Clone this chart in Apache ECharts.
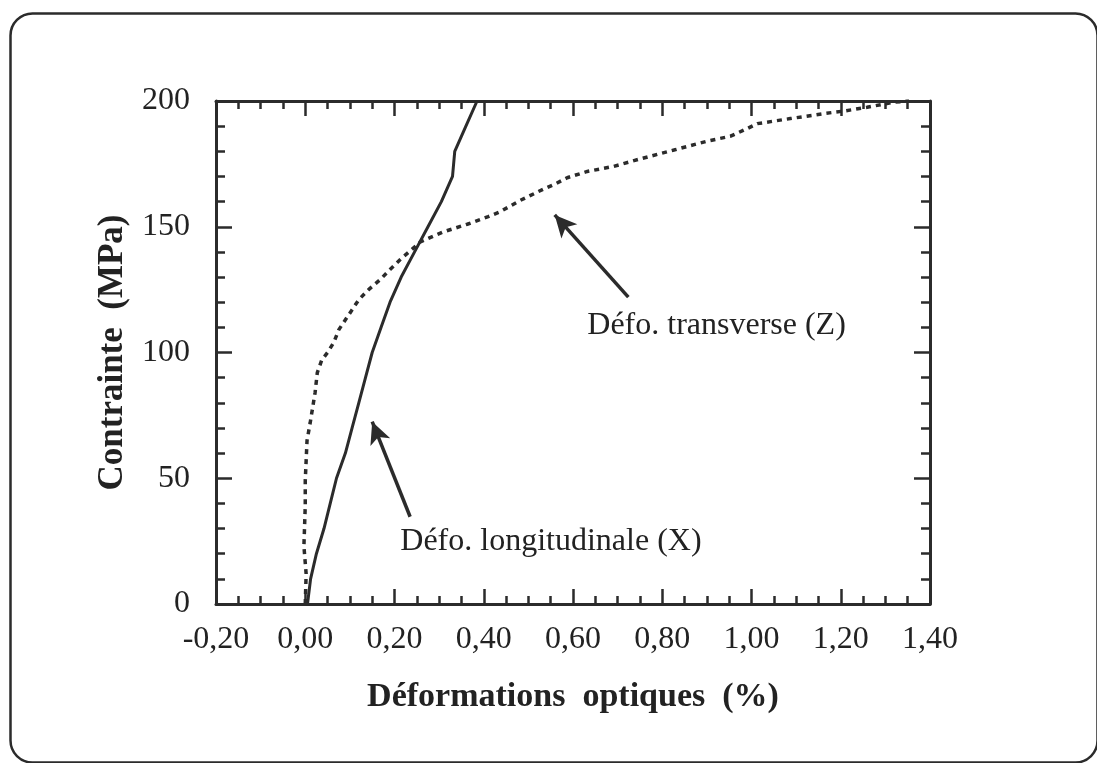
<!DOCTYPE html>
<html>
<head>
<meta charset="utf-8">
<script src="https://cdn.jsdelivr.net/npm/echarts@6/dist/echarts.min.js"></script>
<style>
html,body{margin:0;padding:0;background:#fff;}
#chart{width:1097px;height:763px;}
</style>
</head>
<body>
<div id="chart"></div>
<script>
// ---- data ----
const xAxisName = 'Déformations  optiques  (%)';
const yAxisName = 'Contrainte  (MPa)';
const xTickLabels = ['-0,20','0,00','0,20','0,40','0,60','0,80','1,00','1,20','1,40'];
const yTickLabels = ['0','50','100','150','200'];

// Défo. longitudinale (X): [strain %, stress MPa]
const longX = [0.005,0.012,0.025,0.042,0.056,0.07,0.09,0.105,0.12,0.135,0.15,0.17,0.19,0.215,0.245,0.275,0.305,0.33,0.335,0.36,0.385];
const longY = [0,10,20,30,40,50,60,70,80,90,100,110,120,130,140,150,160,170,180,190,200];

// Défo. transverse (Z)
const transX = [0,0.002,-0.003,0,0,0.004,0.011,0.022,0.027,0.037,0.05,0.064,0.075,0.09,0.105,0.12,0.142,0.168,0.19,0.213,0.239,0.258,0.31,0.363,0.41,0.437,0.482,0.534,0.56,0.587,0.632,0.691,0.751,0.826,0.9,0.953,0.99,1.013,1.087,1.162,1.207,1.259,1.319,1.353];
const transY = [0,12,23,39,49,65,72,84,92,97,100,104,109,113,117,121,125,129,133,137,141,144,148,151,154,156,160.5,165,167,169.5,172,174,177,180.5,184,186,189,191,193,195,196,197.5,199.5,200];

// annotations: label text, anchor [x, y]; arrows: tail -> tip
const annotTexts = ['Défo. transverse (Z)', 'Défo. longitudinale (X)'];
const annotAnchors = [[0.632, 110.5], [0.213, 24.7]];
const arrowTails = [[0.724, 122], [0.235, 34.7]];
const arrowTips = [[0.559, 154.7], [0.150, 72.5]];

const xMin = -0.2, xMax = 1.4, xStep = 0.2;
const yMin = 0, yMax = 200, yStep = 50;

// ---- chart ----
const ink = '#2b2b2b';
const serif = '"Liberation Serif", "DejaVu Serif", serif';
const chart = echarts.init(document.getElementById('chart'), null, {renderer: 'canvas'});

const zip = (xs, ys) => xs.map((x, i) => [x, ys[i]]);

function baseX(pos, showLabel) {
  return {
    type: 'value', position: pos, min: xMin, max: xMax, interval: xStep,
    axisLine: {show: true, onZero: false, lineStyle: {color: ink, width: 3}},
    axisTick: {show: true, inside: true, length: 15, lineStyle: {color: ink, width: 2.5}},
    minorTick: {show: true, splitNumber: 4, length: 8, lineStyle: {color: ink, width: 2.5}},
    splitLine: {show: false}, minorSplitLine: {show: false},
    axisLabel: showLabel ? {
      show: true, margin: 20, color: '#222', fontFamily: serif, fontSize: 32,
      formatter: v => xTickLabels[Math.round((v - xMin) / xStep)]
    } : {show: false}
  };
}
function baseY(pos, showLabel) {
  return {
    type: 'value', position: pos, min: yMin, max: yMax, interval: yStep,
    axisLine: {show: true, onZero: false, lineStyle: {color: ink, width: 3}},
    axisTick: {show: true, inside: true, length: 16, lineStyle: {color: ink, width: 2.5}},
    minorTick: {show: true, splitNumber: 5, length: 9, lineStyle: {color: ink, width: 2.5}},
    splitLine: {show: false}, minorSplitLine: {show: false},
    axisLabel: showLabel ? {
      show: true, margin: 26, color: '#222', fontFamily: serif, fontSize: 32,
      formatter: v => yTickLabels[Math.round((v - yMin) / yStep)]
    } : {show: false}
  };
}

const xa = baseX('bottom', true);
xa.name = xAxisName; xa.nameLocation = 'middle'; xa.nameGap = 76;
xa.nameTextStyle = {fontFamily: serif, fontWeight: 'bold', fontSize: 34, color: '#222'};
const ya = baseY('left', true);
ya.name = yAxisName; ya.nameLocation = 'middle'; ya.nameGap = 86; ya.nameRotate = 90;
ya.nameTextStyle = {fontFamily: serif, fontWeight: 'bold', fontSize: 35, color: '#222'};

const option = {
  animation: false,
  backgroundColor: '#fff',
  grid: {left: 216, right: 167, top: 101, bottom: 159, containLabel: false},
  xAxis: [xa, baseX('top', false)],
  yAxis: [ya, baseY('right', false)],
  graphic: [{
    type: 'rect', left: 8, top: 11, z: -1,
    shape: {width: 1087, height: 749, r: 22},
    style: {fill: 'none', stroke: ink, lineWidth: 2.5}
  }],
  series: [
    {
      name: 'Défo. longitudinale (X)', type: 'line', data: zip(longX, longY),
      showSymbol: false, symbol: 'none', smooth: false,
      lineStyle: {color: ink, width: 3}
    },
    {
      name: 'Défo. transverse (Z)', type: 'line', data: zip(transX, transY),
      showSymbol: false, symbol: 'none', smooth: false,
      lineStyle: {color: ink, width: 3.5, type: [5, 5]}
    },
    {
      name: 'annotations', type: 'scatter', symbolSize: 0, silent: true,
      itemStyle: {opacity: 1, color: ink},
      data: annotTexts.map((t, i) => ({name: t, value: annotAnchors[i]})),
      label: {
        show: true, position: 'right', distance: 0, formatter: p => p.name,
        fontFamily: serif, fontSize: 32, color: '#222', opacity: 1
      },
      markLine: {
        silent: true, symbol: ['none', 'arrow'], symbolSize: [16, 22],
        label: {show: false},
        lineStyle: {color: ink, width: 3.5, type: 'solid', opacity: 1},
        data: arrowTails.map((t, i) => [{coord: t}, {coord: arrowTips[i]}])
      }
    }
  ]
};
chart.setOption(option);
</script>
</body>
</html>
